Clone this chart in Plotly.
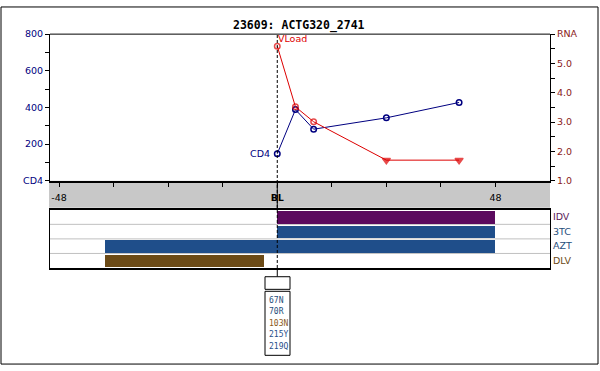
import plotly.graph_objects as go

W, H = 600, 371


def px(x):
    return x / W


def py(y):
    return 1 - y / H


title_text = "23609: ACTG320_2741"

# CD4 counts by week
cd4_weeks = [0, 4, 8, 24, 40]
cd4_values = [147, 388, 281, 343, 427]

# HIV RNA (log10 copies) by week
rna_weeks = [0, 4, 8, 24, 40]
rna_values = [5.59, 3.52, 3.01, 1.70, 1.70]
rna_below_limit = [False, False, False, True, True]

# Treatment history
drugs = ["IDV", "3TC", "AZT", "DLV"]
drug_start = [0, 0, -38, -38]
drug_end = [48, 48, 48, -3]
drug_colors = ["#5B0A5E", "#1F4E8A", "#1F4E8A", "#6B4A16"]
drug_label_colors = ["#5A1A5A", "#1F4E7A", "#1F4E7A", "#6B4A16"]

# Axis ticks
x_tickvals = [-48, -36, -24, -12, 0, 12, 24, 36, 48]
x_ticktext = ["-48", "", "", "", "<b>BL</b>", "", "", "", "48"]
cd4_tickvals = [0, 100, 200, 300, 400, 500, 600, 700, 800]
cd4_ticktext = ["CD4", "", "200", "", "400", "", "600", "", "800"]
rna_tickvals = [1, 1.5, 2, 2.5, 3, 3.5, 4, 4.5, 5, 5.5, 6]
rna_ticktext = ["1.0", "", "2.0", "", "3.0", "", "4.0", "", "5.0", "", "RNA"]

# Genotype at baseline
mutations = ["67N", "70R", "103N", "215Y", "219Q"]
mutation_colors = ["#1F4E7A", "#1F4E7A", "#8B5A1A", "#1F4E8A", "#1F4E8A"]

CD4_COLOR = "#000080"
RNA_COLOR = "#DD0000"
FONT = "DejaVu Sans"

fig = go.Figure()

fig.add_trace(go.Scatter(
    x=cd4_weeks, y=cd4_values, mode="lines+markers",
    line=dict(color=CD4_COLOR, width=1),
    marker=dict(symbol="circle-open", size=5.5, color=CD4_COLOR, line=dict(width=1.5)),
    xaxis="x", yaxis="y", showlegend=False, cliponaxis=False,
))

fig.add_trace(go.Scatter(
    x=rna_weeks, y=rna_values, mode="lines+markers",
    line=dict(color=RNA_COLOR, width=1),
    marker=dict(
        symbol=["triangle-down" if b else "circle-open" for b in rna_below_limit],
        size=[7 if b else 5.5 for b in rna_below_limit],
        color=RNA_COLOR, line=dict(width=1.5, color=RNA_COLOR),
    ),
    xaxis="x", yaxis="y3", showlegend=False, cliponaxis=False,
))

rows = [len(drugs) - 0.5 - i for i in range(len(drugs))]
fig.add_trace(go.Bar(
    y=rows, x=[e - s for s, e in zip(drug_start, drug_end)], base=drug_start,
    orientation="h", width=0.86, marker=dict(color=drug_colors, line=dict(width=0)),
    xaxis="x2", yaxis="y2", showlegend=False,
))

shapes = [
    # outer border
    dict(type="rect", xref="paper", yref="paper", x0=px(1), x1=px(598), y0=py(369), y1=py(1),
         line=dict(color="black", width=1)),
    # gray time band
    dict(type="rect", xref="paper", yref="paper", x0=px(49), x1=px(550), y0=py(208), y1=py(180),
         fillcolor="#C8C8C8", line=dict(width=0), layer="below"),
    # top frame of main plot
    dict(type="line", xref="paper", yref="paper", x0=px(50), x1=px(550), y0=py(29), y1=py(29),
         line=dict(color="black", width=1)),
    # baseline dashed line
    dict(type="line", xref="x", yref="paper", x0=0, x1=0, y0=py(270), y1=py(29),
         line=dict(color="black", width=1, dash="3px,2px")),
    dict(type="line", xref="x", yref="paper", x0=0, x1=0, y0=py(208), y1=py(180),
         line=dict(color="black", width=1)),
    dict(type="line", xref="x", yref="paper", x0=0, x1=0, y0=py(279), y1=py(270),
         line=dict(color="black", width=1)),
    # genotype boxes
    dict(type="rect", xref="paper", yref="paper", x0=px(265), x1=px(290), y0=py(292), y1=py(279),
         fillcolor="white", line=dict(color="black", width=1)),
    dict(type="rect", xref="paper", yref="paper", x0=px(265), x1=px(290), y0=py(360), y1=py(294),
         fillcolor="white", line=dict(color="black", width=1)),
]
for yv in [1, 2, 3]:
    shapes.append(dict(type="line", xref="paper", yref="y2", x0=px(50), x1=px(550), y0=yv, y1=yv,
                       line=dict(color="#C0C0C0", width=1), layer="below"))

annotations = [
    dict(text="<b>" + title_text + "</b>", x=px(299), y=py(20), xref="paper", yref="paper",
         xanchor="center", yanchor="middle", showarrow=False, borderpad=0,
         font=dict(family="DejaVu Sans Mono", size=11.5, color="black")),
    dict(text="CD4", x=cd4_weeks[0], y=cd4_values[0], xref="x", yref="y", xanchor="right",
         yanchor="middle", xshift=-5, showarrow=False, font=dict(family=FONT, size=9.5, color=CD4_COLOR)),
    dict(text="VLoad", x=rna_weeks[0], y=rna_values[0], xref="x", yref="y3", xanchor="left",
         yanchor="middle", xshift=0, yshift=7.5, showarrow=False, borderpad=0,
         font=dict(family=FONT, size=9.5, color=RNA_COLOR)),
]
for i, (m, c) in enumerate(zip(mutations, mutation_colors)):
    annotations.append(dict(text=m, x=px(266.5), y=py(303 + 12 * i), xref="paper", yref="paper",
                            xanchor="left", yanchor="middle", showarrow=False,
                            font=dict(family="DejaVu Sans Mono", size=8, color=c)))

fig.update_layout(
    width=W, height=H, margin=dict(l=0, r=0, t=0, b=0),
    paper_bgcolor="white", plot_bgcolor="white",
    font=dict(family=FONT, size=9.5, color="black"),
    bargap=0,
    xaxis=dict(domain=[px(50), px(550)], range=[-50, 60], tickmode="array",
               tickvals=x_tickvals, ticktext=x_ticktext, ticks="outside", ticklen=4,
               tickcolor="black", showline=True, linecolor="black", linewidth=2,
               showgrid=False, zeroline=False, anchor="y", ticklabelstandoff=3,
               tickfont=dict(family=FONT, size=9.5, color="black")),
    yaxis=dict(domain=[py(180), py(29)], range=[0, 800], tickmode="array",
               tickvals=cd4_tickvals, ticktext=cd4_ticktext, ticks="outside", ticklen=4,
               tickcolor="black", showline=True, linecolor="black", linewidth=1,
               showgrid=False, zeroline=False, anchor="x",
               tickfont=dict(family=FONT, size=9.5, color=CD4_COLOR)),
    yaxis3=dict(overlaying="y", side="right", range=[1, 6], tickmode="array",
                tickvals=rna_tickvals, ticktext=rna_ticktext, ticks="outside", ticklen=4,
                tickcolor="black", showline=True, linecolor="black", linewidth=1,
                showgrid=False, zeroline=False, anchor="x",
                tickfont=dict(family=FONT, size=9.5, color="#8B1A1A")),
    xaxis2=dict(domain=[px(50), px(550)], matches="x", anchor="y2", showticklabels=False,
                ticks="", showline=True, mirror=True, linecolor="black", linewidth=1.5,
                showgrid=False, zeroline=False),
    yaxis2=dict(domain=[py(270), py(210)], range=[0, 4], side="right", tickmode="array",
                tickvals=rows,
                ticktext=[f'<span style="color:{c}">{d}</span>' for d, c in zip(drugs, drug_label_colors)],
                ticks="", showline=True, mirror=True, linecolor="black", linewidth=1,
                showgrid=False, zeroline=False, anchor="x2",
                tickfont=dict(family=FONT, size=9.5)),
    shapes=shapes,
    annotations=annotations,
)

fig.write_html("out.html")
